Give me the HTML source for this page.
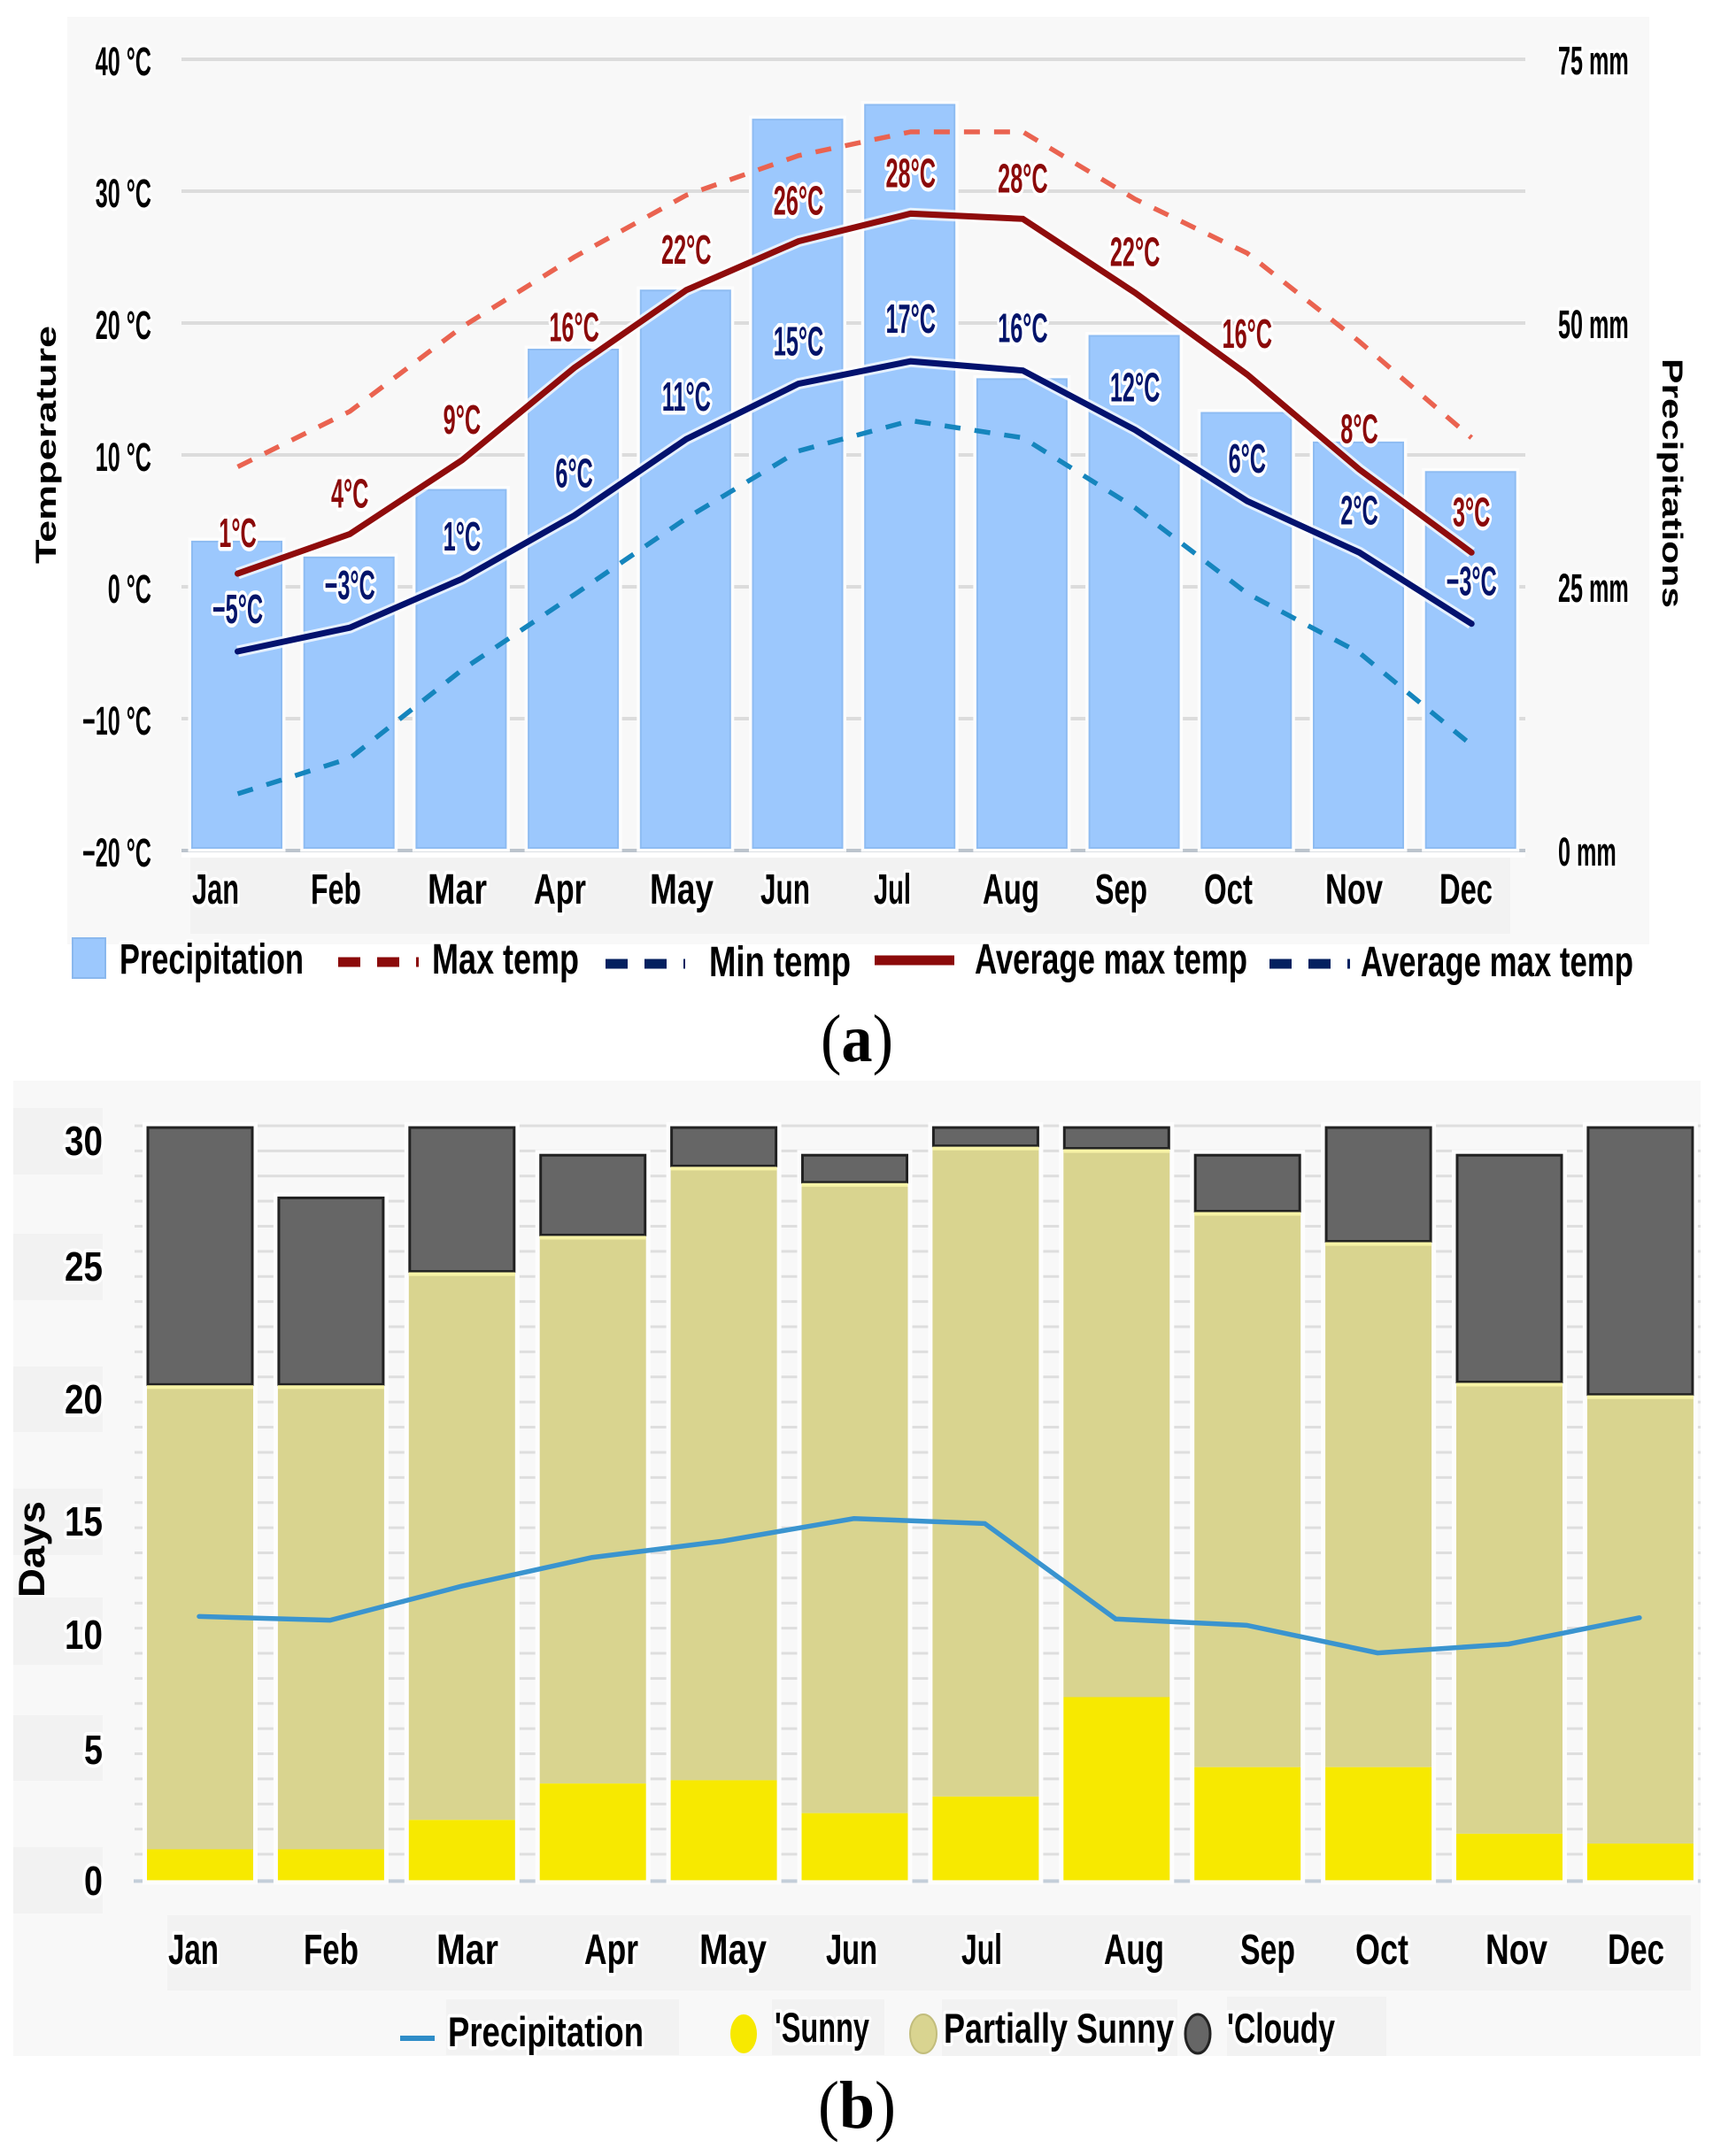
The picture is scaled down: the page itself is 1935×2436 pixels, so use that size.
<!DOCTYPE html>
<html lang="en">
<head>
<meta charset="utf-8">
<title>Climate charts: temperature, precipitation and sunshine days</title>
<style>
html,body{margin:0;padding:0;background:#fff;}
svg{display:block;}
text{font-family:"Liberation Sans",Arial,sans-serif;}
.h{fill:#000;stroke:#fff;stroke-width:8px;paint-order:stroke;stroke-linejoin:round;font-weight:bold;}
.hb{fill:#000;stroke:#fff;stroke-width:8px;paint-order:stroke;stroke-linejoin:round;font-weight:bold;}
.serif{font-family:"Liberation Serif",serif;fill:#000;}
</style>
</head>
<body>
<svg id="root" xmlns="http://www.w3.org/2000/svg" width="1935" height="2436" viewBox="0 0 1935 2436">
  <rect x="0" y="0" width="1935" height="2436" fill="#fff"/>

  <!-- panel a -->
  <rect x="76" y="19" width="1787" height="1048" fill="#f8f8f8"/>
  <rect x="205" y="962" width="1518" height="7" fill="#fff"/>
  <rect x="215" y="969" width="1491" height="86" fill="#f2f2f2"/>
  <g id="chartA"></g>

  <g font-size="48">
    <text class="h" x="217" y="1021" textLength="53" lengthAdjust="spacingAndGlyphs">Jan</text>
    <text class="h" x="351" y="1021" textLength="57" lengthAdjust="spacingAndGlyphs">Feb</text>
    <text class="h" x="483" y="1021" textLength="67" lengthAdjust="spacingAndGlyphs">Mar</text>
    <text class="h" x="603" y="1021" textLength="59" lengthAdjust="spacingAndGlyphs">Apr</text>
    <text class="h" x="734" y="1021" textLength="72" lengthAdjust="spacingAndGlyphs">May</text>
    <text class="h" x="859" y="1021" textLength="56" lengthAdjust="spacingAndGlyphs">Jun</text>
    <text class="h" x="987" y="1021" textLength="42" lengthAdjust="spacingAndGlyphs">Jul</text>
    <text class="h" x="1110" y="1021" textLength="64" lengthAdjust="spacingAndGlyphs">Aug</text>
    <text class="h" x="1237" y="1021" textLength="59" lengthAdjust="spacingAndGlyphs">Sep</text>
    <text class="h" x="1360" y="1021" textLength="55" lengthAdjust="spacingAndGlyphs">Oct</text>
    <text class="h" x="1497" y="1021" textLength="65" lengthAdjust="spacingAndGlyphs">Nov</text>
    <text class="h" x="1626" y="1021" textLength="60" lengthAdjust="spacingAndGlyphs">Dec</text>
  </g>

  <text font-size="32" font-weight="bold" fill="#000" transform="translate(63,637) rotate(-90)" textLength="269" lengthAdjust="spacingAndGlyphs">Temperature</text>
  <text font-size="32" font-weight="bold" fill="#000" transform="translate(1878,405) rotate(90)" textLength="282" lengthAdjust="spacingAndGlyphs">Precipitations</text>

  <g font-size="48">
    <rect x="82" y="1060" width="37" height="45" fill="#9cc8fd" stroke="#8ab8ee" stroke-width="2"/>
    <text class="h" x="135" y="1100" textLength="208" lengthAdjust="spacingAndGlyphs">Precipitation</text>
    <line x1="382" y1="1087" x2="473" y2="1087" stroke="#8b0a0a" stroke-width="11" stroke-dasharray="25 19"/>
    <text class="h" x="488" y="1100" textLength="166" lengthAdjust="spacingAndGlyphs">Max temp</text>
    <line x1="684" y1="1089" x2="774" y2="1089" stroke="#04205f" stroke-width="11" stroke-dasharray="25 19"/>
    <text class="h" x="801" y="1103" textLength="160" lengthAdjust="spacingAndGlyphs">Min temp</text>
    <line x1="988" y1="1085" x2="1078" y2="1085" stroke="#8b0a0a" stroke-width="11"/>
    <text class="h" x="1101" y="1100" textLength="308" lengthAdjust="spacingAndGlyphs">Average max temp</text>
    <line x1="1434" y1="1089" x2="1525" y2="1089" stroke="#04205f" stroke-width="11" stroke-dasharray="25 19"/>
    <text class="h" x="1537" y="1103" textLength="308" lengthAdjust="spacingAndGlyphs">Average max temp</text>
  </g>

  <text class="serif" x="927" y="1199" font-size="76" textLength="82" lengthAdjust="spacingAndGlyphs">(<tspan font-weight="bold">a</tspan>)</text>

  <!-- panel b -->
  <rect x="15" y="1221" width="1906" height="1102" fill="#f8f8f8"/>
  <g fill="#f2f2f2">
    <rect x="15" y="1252" width="101" height="75"/>
    <rect x="15" y="1394" width="101" height="75"/>
    <rect x="15" y="1544" width="101" height="74"/>
    <rect x="15" y="1682" width="101" height="75"/>
    <rect x="15" y="1805" width="101" height="76"/>
    <rect x="15" y="1938" width="101" height="74"/>
    <rect x="15" y="2087" width="101" height="75"/>
  </g>
  <rect x="189" y="2164" width="1721" height="85" fill="#f2f2f2"/>
  <g fill="#f2f2f2">
    <rect x="504" y="2259" width="263" height="63"/>
    <rect x="872" y="2259" width="127" height="63"/>
    <rect x="1064" y="2259" width="266" height="64"/>
    <rect x="1386" y="2256" width="180" height="67"/>
  </g>
  <g id="chartB"></g>

  <g font-size="46">
    <text class="h" x="73" y="1305" textLength="43" lengthAdjust="spacingAndGlyphs">30</text>
    <text class="h" x="73" y="1447" textLength="43" lengthAdjust="spacingAndGlyphs">25</text>
    <text class="h" x="73" y="1597" textLength="43" lengthAdjust="spacingAndGlyphs">20</text>
    <text class="h" x="73" y="1735" textLength="43" lengthAdjust="spacingAndGlyphs">15</text>
    <text class="h" x="73" y="1863" textLength="43" lengthAdjust="spacingAndGlyphs">10</text>
    <text class="h" x="95" y="1993" textLength="21" lengthAdjust="spacingAndGlyphs">5</text>
    <text class="h" x="95" y="2141" textLength="21" lengthAdjust="spacingAndGlyphs">0</text>
  </g>
  <text font-size="42" font-weight="bold" fill="#000" transform="translate(50,1805) rotate(-90)" textLength="109" lengthAdjust="spacingAndGlyphs">Days</text>

  <g font-size="48">
    <text class="hb" x="190" y="2219" textLength="57" lengthAdjust="spacingAndGlyphs">Jan</text>
    <text class="hb" x="343" y="2219" textLength="62" lengthAdjust="spacingAndGlyphs">Feb</text>
    <text class="hb" x="493" y="2219" textLength="70" lengthAdjust="spacingAndGlyphs">Mar</text>
    <text class="hb" x="660" y="2219" textLength="61" lengthAdjust="spacingAndGlyphs">Apr</text>
    <text class="hb" x="790" y="2219" textLength="76" lengthAdjust="spacingAndGlyphs">May</text>
    <text class="hb" x="933" y="2219" textLength="58" lengthAdjust="spacingAndGlyphs">Jun</text>
    <text class="hb" x="1086" y="2219" textLength="46" lengthAdjust="spacingAndGlyphs">Jul</text>
    <text class="hb" x="1247" y="2219" textLength="68" lengthAdjust="spacingAndGlyphs">Aug</text>
    <text class="hb" x="1401" y="2219" textLength="62" lengthAdjust="spacingAndGlyphs">Sep</text>
    <text class="hb" x="1531" y="2219" textLength="60" lengthAdjust="spacingAndGlyphs">Oct</text>
    <text class="hb" x="1678" y="2219" textLength="70" lengthAdjust="spacingAndGlyphs">Nov</text>
    <text class="hb" x="1816" y="2219" textLength="64" lengthAdjust="spacingAndGlyphs">Dec</text>
  </g>

  <g font-size="47">
    <line x1="452" y1="2303" x2="491" y2="2303" stroke="#2f8dc8" stroke-width="6"/>
    <text class="hb" x="506" y="2312" textLength="221" lengthAdjust="spacingAndGlyphs">Precipitation</text>
    <ellipse cx="840" cy="2298" rx="15" ry="22" fill="#f7e900"/>
    <text class="hb" x="875" y="2307" textLength="107" lengthAdjust="spacingAndGlyphs">'Sunny</text>
    <ellipse cx="1043" cy="2298" rx="15" ry="22" fill="#d9d490" stroke="#c2bd7c" stroke-width="2"/>
    <text class="hb" x="1066" y="2308" textLength="260" lengthAdjust="spacingAndGlyphs">Partially Sunny</text>
    <ellipse cx="1353" cy="2298" rx="14" ry="22" fill="#666" stroke="#222" stroke-width="3"/>
    <text class="hb" x="1386" y="2308" textLength="122" lengthAdjust="spacingAndGlyphs">'Cloudy</text>
  </g>

  <text class="serif" x="924" y="2404" font-size="76" textLength="88" lengthAdjust="spacingAndGlyphs">(<tspan font-weight="bold">b</tspan>)</text>
</svg>

<script>
// ---- Chart A data ----
const monthsA = ['Jan','Feb','Mar','Apr','May','Jun','Jul','Aug','Sep','Oct','Nov','Dec'];
const precipitationMm = [29.2,27.7,34.1,47.4,53.0,69.2,70.6,44.6,48.7,41.4,38.6,35.8];
const averageMaxTemp = [1.0,4.0,9.6,16.6,22.5,26.2,28.3,27.9,22.3,16.1,8.9,2.6];
const averageMinTemp = [-4.9,-3.1,0.6,5.4,11.2,15.4,17.1,16.4,11.9,6.5,2.6,-2.8];
const maxTempDashed = [9.1,13.3,19.7,25.0,29.7,32.7,34.5,34.5,29.4,25.3,18.6,11.3];
const minTempDashed = [-15.7,-13.0,-6.3,-0.6,5.2,10.3,12.6,11.3,6.0,-0.5,-5.0,-12.0];
const avgMaxLabels = ['1°C','4°C','9°C','16°C','22°C','26°C','28°C','28°C','22°C','16°C','8°C','3°C'];
const avgMinLabels = ['−5°C','−3°C','1°C','6°C','11°C','15°C','17°C','16°C','12°C','6°C','2°C','−3°C'];
const tempTicks = [40,30,20,10,0,-10,-20];
const tempTickLabels = ['40 °C','30 °C','20 °C','10 °C','0 °C','−10 °C','−20 °C'];
const mmTicks = [75,50,25,0];
const mmTickLabels = ['75 mm','50 mm','25 mm','0 mm'];

// ---- Chart B data ----
const monthsB = ['Jan','Feb','Mar','Apr','May','Jun','Jul','Aug','Sep','Oct','Nov','Dec'];
const sunnyDays = [1.23,1.23,2.4,3.85,3.98,2.67,3.33,7.29,4.5,4.5,1.85,1.46];
const partlySunnyDays = [18.47,18.47,21.8,21.8,24.42,25.08,25.87,21.81,22.1,20.9,17.95,17.84];
const cloudyDays = [10.3,7.5,5.8,3.25,1.6,1.15,0.8,0.9,2.3,4.6,9.1,10.7];
const precipitationLineB = [10.5,10.35,11.7,12.85,13.5,14.4,14.2,10.4,10.15,9.05,9.4,10.45];
const dayGridTicks = [1,2,3,4,5,6,7,8,9,10,11,12,13,14,15,16,17,18,19,20,21,22,23,24,25,26,27,28,29,30];

const NS = 'http://www.w3.org/2000/svg';
function mk(parent, tag, attrs) {
  const e = document.createElementNS(NS, tag);
  for (const k in attrs) e.setAttribute(k, attrs[k]);
  parent.appendChild(e);
  return e;
}

// axis functions chart A
const xA = i => 267.5 + 126.7 * i;
const yTemp = t => 663 - 14.9 * t;
const yMm = m => 960 - 11.92 * m;
const BAR_A = 101;

const A = document.getElementById('chartA');

tempTicks.forEach((t, i) => {
  const el = mk(A, 'line', {x1: 205, x2: 1723, y1: yTemp(t), y2: yTemp(t), stroke: t === -20 ? '#bcc4cd' : '#dcdcdc', 'stroke-width': 4});
  
  
  const lab = mk(A, 'text', {class: 'h', 'font-size': 45, 'text-anchor': 'end', transform: 'translate(171,' + (yTemp(t) + 18) + ') scale(0.56,1)'});
  lab.textContent = tempTickLabels[i];
  
  
});

mmTicks.forEach((m, i) => {
  const lab = mk(A, 'text', {class: 'h', 'font-size': 45, transform: 'translate(1760,' + (yMm(m) + 18) + ') scale(0.56,1)'});
  lab.textContent = mmTickLabels[i];
  
  
});

precipitationMm.forEach((v, i) => {
  const halo = mk(A, 'rect', {x: xA(i) - BAR_A / 2, y: yMm(v), width: BAR_A, height: yMm(0) - yMm(v) - 2, fill: 'none', stroke: '#fdfdfd', 'stroke-width': 9});
  
  
  const bar = mk(A, 'rect', {x: xA(i) - BAR_A / 2, y: yMm(v), width: BAR_A, height: yMm(0) - yMm(v) - 2, fill: '#9cc8fd', stroke: '#8ebcf2', 'stroke-width': 2});
  
  
});

function pointsA(values) {
  return values.map((v, i) => (xA(i) + 1) + ',' + yTemp(v)).join(' ');
}

const maxDash = mk(A, 'polyline', {points: pointsA(maxTempDashed), fill: 'none', stroke: '#ea6350', 'stroke-width': 5.5, 'stroke-dasharray': '18 16'});



const minDash = mk(A, 'polyline', {points: pointsA(minTempDashed), fill: 'none', stroke: '#1585bd', 'stroke-width': 5.5, 'stroke-dasharray': '18 16'});



const maxHalo = mk(A, 'polyline', {points: pointsA(averageMaxTemp), fill: 'none', stroke: '#fff', 'stroke-opacity': 0.75, 'stroke-width': 13});


const maxLine = mk(A, 'polyline', {points: pointsA(averageMaxTemp), fill: 'none', stroke: '#8f0c0c', 'stroke-width': 7, 'stroke-linecap': 'round'});



const minHalo = mk(A, 'polyline', {points: pointsA(averageMinTemp), fill: 'none', stroke: '#fff', 'stroke-opacity': 0.75, 'stroke-width': 13});


const minLine = mk(A, 'polyline', {points: pointsA(averageMinTemp), fill: 'none', stroke: '#03126e', 'stroke-width': 7, 'stroke-linecap': 'round'});



averageMaxTemp.forEach((v, i) => {
  const t = mk(A, 'text', {'font-size': 46, 'font-weight': 'bold', 'text-anchor': 'middle', fill: '#8b0a0a', stroke: '#fff', 'stroke-width': 9, 'paint-order': 'stroke', 'stroke-linejoin': 'round', transform: 'translate(' + (xA(i) + 1) + ',' + (yTemp(v) - 30) + ') scale(0.55,1)'});
  t.textContent = avgMaxLabels[i];
  
  
});
averageMinTemp.forEach((v, i) => {
  const t = mk(A, 'text', {'font-size': 46, 'font-weight': 'bold', 'text-anchor': 'middle', fill: '#03146a', stroke: '#fff', 'stroke-width': 9, 'paint-order': 'stroke', 'stroke-linejoin': 'round', transform: 'translate(' + (xA(i) + 1) + ',' + (yTemp(v) - 32) + ') scale(0.55,1)'});
  t.textContent = avgMinLabels[i];
  
  
});

// axis functions chart B
const xB = i => 226 + 147.9 * i;
const yDay = d => 2124.4 - 28.38 * d;
const BAR_B = 120;

const B = document.getElementById('chartB');

dayGridTicks.forEach(d => {
  const el = mk(B, 'line', {x1: 152, x2: 1921, y1: yDay(d) - 1, y2: yDay(d) - 1, stroke: '#dedede', 'stroke-width': 3});
  
  
});
const axisB = mk(B, 'line', {x1: 151, x2: 1921, y1: yDay(0) + 1, y2: yDay(0) + 1, stroke: '#c3ced9', 'stroke-width': 4});



monthsB.forEach((m, i) => {
  const s = sunnyDays[i];
  const p = partlySunnyDays[i];
  const c = cloudyDays[i];
  const x = xB(i) - BAR_B / 2;
  const halo = mk(B, 'rect', {x: x, y: yDay(s + p + c), width: BAR_B, height: yDay(0) - yDay(s + p + c), fill: '#fdfdfd', stroke: '#fdfdfd', 'stroke-width': 10});
  
  
  const cloudy = mk(B, 'rect', {x: x + 1, y: yDay(s + p + c) + 1, width: BAR_B - 2, height: yDay(s + p) - yDay(s + p + c) - 2, fill: '#666', stroke: '#222', 'stroke-width': 3});
  
  
  const partly = mk(B, 'rect', {x: x, y: yDay(s + p), width: BAR_B, height: yDay(s) - yDay(s + p), fill: '#d9d48f'});
  
  
  const glow = mk(B, 'rect', {x: x, y: yDay(s + p), width: BAR_B, height: 4, fill: '#f7f3a6'});
  
  
  const sunny = mk(B, 'rect', {x: x, y: yDay(s), width: BAR_B, height: yDay(0) - yDay(s), fill: '#f7e900'});
  
  
});

const lineB = mk(B, 'polyline', {points: precipitationLineB.map((v, i) => (xB(i) - 1) + ',' + yDay(v)).join(' '), fill: 'none', stroke: '#3a94cf', 'stroke-width': 5.5, 'stroke-linecap': 'round'});


</script>
</body>
</html>
